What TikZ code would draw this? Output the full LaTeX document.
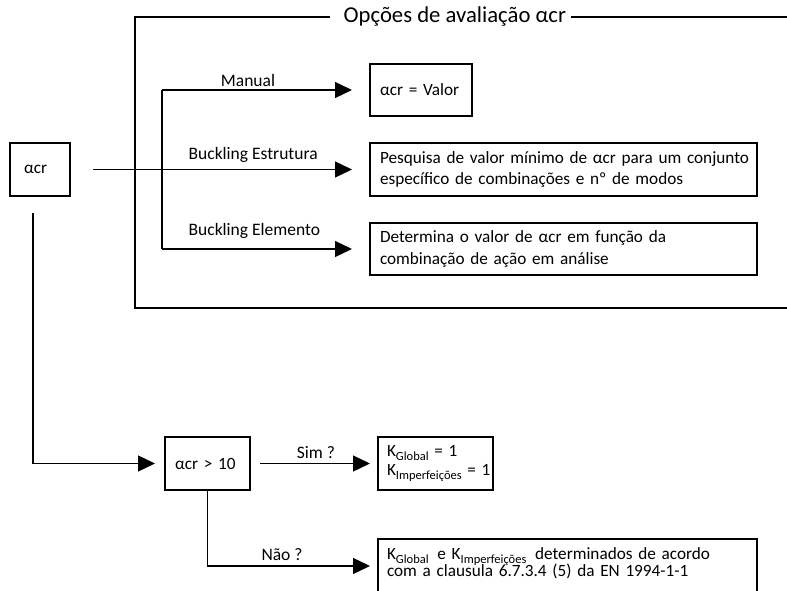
\documentclass[tikz,border=0pt]{standalone}
\usepackage{fontspec}
\setmainfont{Carlito}
\usetikzlibrary{arrows.meta}
\newcommand\lblfont{\fontsize{17.5}{21}\selectfont}
\newcommand\boxfont{\fontsize{17.2}{21.5}\selectfont\lineskiplimit=-100pt\relax}
\newcommand\ttlfont{\fontsize{22.7}{26}\selectfont}
\newcommand\ksub[1]{\raisebox{-4pt}{\fontsize{12.5}{13}\selectfont #1}}
\begin{document}
\begin{tikzpicture}[x=1pt,y=-1pt,line width=1.3pt,
  box/.style={draw, anchor=north west, outer sep=0pt, inner ysep=0pt, align=left, font=\boxfont},
  lbl/.style={font=\lblfont, inner sep=0pt},
  arr/.style={-{Triangle[length=17pt,width=16pt]}}]
\path[use as bounding box, clip] (0,0) rectangle (787,591);

% frame
\node[font=\ttlfont, anchor=west, inner sep=0pt] (ttl) at (343,17) {Opções de avaliação αcr};
\coordinate (ftl) at (135,17);
\coordinate (ftr) at (790,17);
\coordinate (fbr) at (790,308);
\draw ([xshift=-13pt]ttl.west) -- (ftl) |- (fbr);
\draw ([xshift=4pt]ttl.east) -- (ftr);

% boxes
\node[box, inner xsep=14pt, text width=32pt, minimum height=53pt] (acr) at (10,143) {\mbox{αcr}};
\node[box, inner xsep=10pt, text width=82pt, minimum height=52pt] (valor) at (370,64) {\mbox{αcr = Valor}};
\node[box, inner xsep=10pt, text width=367pt, minimum height=53pt] (pesq) at (370,143)
  {\mbox{Pesquisa de valor mínimo de αcr para um conjunto}\\\mbox{específico de combinações e nº de modos}};
\node[box, inner xsep=10pt, text width=367pt, minimum height=52pt] (determ) at (370,223)
  {\mbox{Determina o valor de αcr em função da}\\\mbox{combinação de ação em análise}};
\node[box, inner xsep=10pt, text width=65pt, minimum height=53pt] (cond) at (165,437) {\mbox{αcr > 10}};
\node[box, inner xsep=9pt, text width=97pt, minimum height=53pt] (kone) at (378,437)
  {\mbox{K\ksub{Global} = 1}\\[-2pt]\mbox{K\ksub{Imperfeições} = 1}};
\node[box, inner xsep=9pt, text width=361pt, text depth=60pt] (kdet) at (378,539)
  {\mbox{\rule{0pt}{20pt}K\ksub{Global}\hspace{3pt} e K\ksub{Imperfeições}\hspace{3pt} determinados de acordo}\\[-4.5pt]\mbox{com a clausula 6.7.3.4 (5) da EN 1994-1-1}};

% option connectors
\coordinate (vx) at (162,0);
\coordinate (j1) at (valor.west -| vx);
\coordinate (j2) at (determ.west -| vx);
\draw[arr] (j1) -- ([xshift=-18pt]valor.west);
\draw (j1) -- (j2);
\draw[arr] (j2) -- ([xshift=-18pt]determ.west);
\draw[arr] ([xshift=23pt]acr.east) -- ([xshift=-18pt]pesq.west);
\node[lbl] (lman) at (248,80) {Manual};
\node[lbl, anchor=west] (lest) at (188,155) {Buckling Estrutura};
\node[lbl, anchor=west] (lele) at (188,231) {Buckling Elemento};

% lower part
\coordinate (d0) at (33,213);
\coordinate (n1) at (370,566);
\draw[arr] (d0) |- ([xshift=-10pt]cond.west);
\draw[arr] ([xshift=10pt]cond.east) -- ([xshift=-8pt]kone.west);
\draw[arr] (cond.south) |- (n1);
\node[lbl] (lsim) at (316,453) {Sim ?};
\node[lbl] (lnao) at (282,555) {Não ?};
\end{tikzpicture}
\end{document}
